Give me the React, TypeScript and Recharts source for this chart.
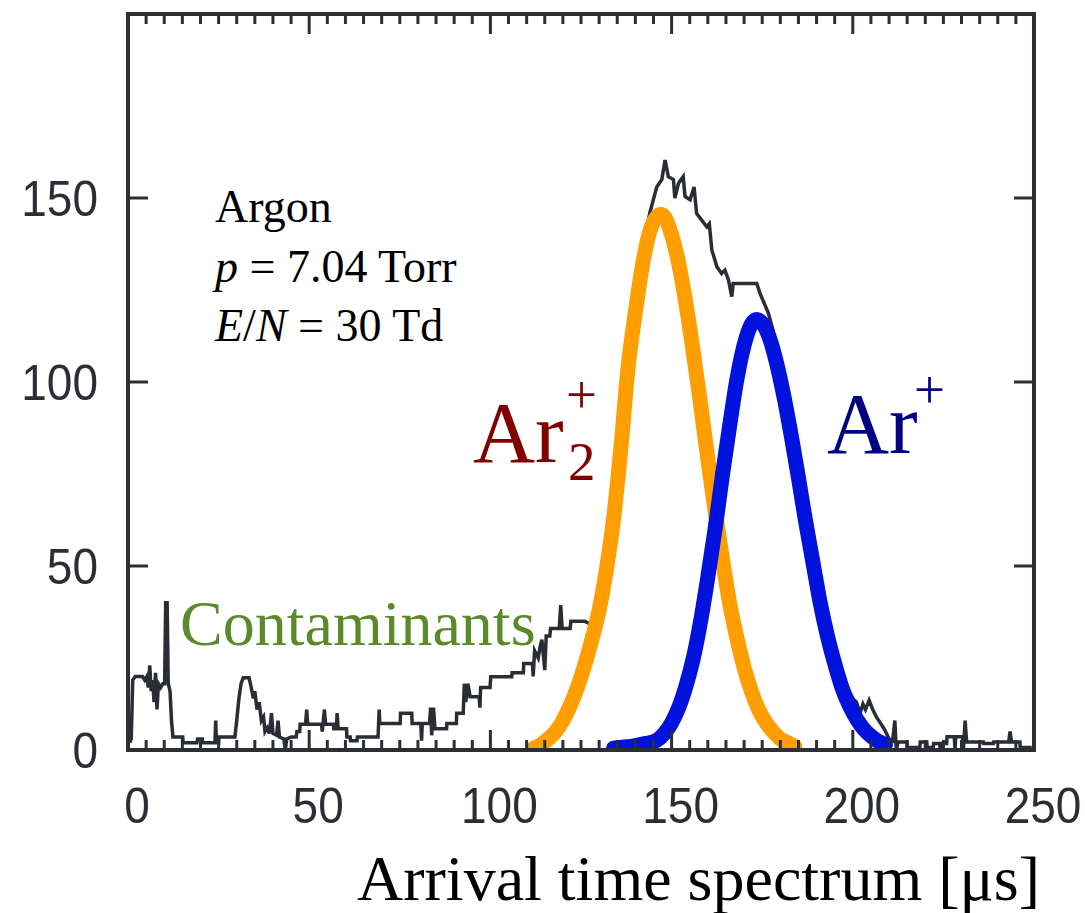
import React from 'react';
import { LineChart, Line, XAxis, YAxis } from 'recharts';

// ---- data ----
const specX = [0.5,0.9,1.3,2.0,4.0,4.6,5.2,5.6,6.0,6.4,6.8,7.2,7.6,8.0,8.4,9.0,9.6,10.1,10.4,10.8,11.1,11.6,12.0,12.4,15.1,15.2,19.0,19.2,20.5,20.6,24.0,24.2,24.4,25.0,25.1,29.5,30.0,30.6,31.2,31.8,33.4,34.0,34.6,35.0,35.6,36.2,36.8,37.4,37.8,38.4,39.0,39.6,40.0,41.0,41.4,41.8,43.0,43.4,43.8,45.0,46.4,46.6,47.4,47.5,49.0,49.3,49.6,51.0,53.4,53.6,54.2,54.5,56.7,56.8,57.5,57.7,58.0,60.3,60.4,61.3,61.4,63.2,63.3,69.0,69.3,69.5,75.1,75.2,78.3,78.4,80.8,81.0,81.2,83.2,83.5,83.8,84.3,84.7,87.9,88.0,90.6,90.7,92.5,92.8,93.2,93.8,94.4,96.9,97.1,97.3,99.9,100.1,105.9,106.0,109.1,109.2,111.6,111.8,112.2,113.2,113.7,114.2,115.0,115.4,116.4,116.6,119.0,119.4,119.8,122.0,122.2,124.0,126.0,128.0,129.0,130.0,132.0,134.0,136.0,138.0,140.0,142.0,143.0,144.0,145.9,147.3,148.2,149.1,150.5,150.9,151.9,153.2,153.7,155.1,156.2,156.9,158.3,159.7,160.4,161.1,162.5,163.8,164.7,165.7,166.6,167.0,173.5,174.4,176.7,178.0,180.0,182.0,184.0,186.0,188.0,190.0,192.0,194.0,196.0,198.0,200.0,201.0,202.0,202.8,203.5,204.5,205.5,206.5,207.5,208.5,209.3,210.0,211.0,211.6,212.0,212.5,214.9,215.0,218.5,218.6,220.4,220.5,222.2,222.3,224.0,224.1,224.3,225.9,226.0,228.0,228.2,228.4,230.3,230.5,231.0,231.4,236.0,236.1,238.8,238.9,243.0,243.4,243.8,246.1,246.2,249.4];
const specY = [2,3,19,20,20,19,20,17,23,16,19,13,21,11,18,17,18,18,40,40,18,16,8,3.5,3.5,2,2,3,3,2,2,8,2,2,3.5,3.5,8,14,18,19.6,19.6,17,14,16,11,13,8,9,5,6,4.5,10,4.5,4,8,3.5,3,0,3,3.5,3.5,5,5,7,7,11,7,7,7,5,11,7,7,5.8,5.8,10,5.8,5.8,3.5,3.5,2.5,2.5,3.5,3.5,11,7.2,7.2,10,10,7.2,7.2,2.5,7.2,7.2,11.5,4,11.5,5.8,5.8,7.2,7.2,10,10,18,13,18,14.5,14.5,11.5,17,17,19.9,19.9,21,21,23.5,23.5,20,27,25,28,30,21.7,31,31,33,33,39.4,33,33,35,35,35,34,35,40,51,66,85,107,122,135,141,146,153,155,160.3,155.8,155,150,154,155.8,150.4,149.5,153,145.8,144,142.2,143,135.9,131.3,129.5,130.4,127.7,123.2,126.8,126.8,124.1,118.7,114,103,94,84,72,60,49,39,30,23,17.5,14,13,10,12.5,11,13.5,11,9,7.5,6,4.5,3,2.5,8,0,2.2,2.2,0.7,0.7,2.2,2.2,0.7,0.7,1.8,1.8,0,1.8,1.8,3.6,3.6,0,3.6,3.6,0,8,2.2,2.2,1.8,1.8,2.2,2.2,5,2.2,2.2,0.7,0.7];

const dimerX = [112,114,116,118,120,122,124,126,128,130,132,134,136,138,140,142,144,146,147,148,150,152,154,156,158,160,162,164,166,168,170,172,174,176,178,180,182,184];
const dimerY = [0.5,1.5,3,5,8,12,17,23,30,38,49,63,82,104,119,132,141,145,145.5,145,140,132,121,108,94,79,65,52,40,30.5,22.4,16,11,7.5,5,3,2,1];

const atomX = [134,137,140,143,146,148,150,152,154,156,158,160,162,164,166,168,170,172,173.5,175,177,179,181,183,185,187,189,191,193,195,197,199,201,203,205,207,209];
const atomY = [0.5,0.8,1.2,1.8,2.7,4.5,7.4,11.6,17.5,25,35,47,60,74.5,88,100.6,110,115.7,117,116,112,105,96,85.5,74,62,51,40,31,23.5,17,12.2,8.5,5.7,3.8,2.4,1.5];

const xTicks = [0,5,10,15,20,25,30,35,40,45,50,55,60,65,70,75,80,85,90,95,100,105,110,115,120,125,130,135,140,145,150,155,160,165,170,175,180,185,190,195,200,205,210,215,220,225,230,235,240,245,250];
const xLabelTicks = [0,50,100,150,200,250];
const yTicks = [0,50,100,150];

const spectrum = specX.map((x, i) => ({ x, y: specY[i] }));
const dimer = dimerX.map((x, i) => ({ x, y: dimerY[i] }));
const atom = atomX.map((x, i) => ({ x, y: atomY[i] }));

const AXIS = '#2b2e35';
const SANS = '"Liberation Sans", Arial, Helvetica, sans-serif';
const SERIF = '"Liberation Serif", "Times New Roman", Times, serif';

const BottomTick = (props: any) => {
  const { x, y, payload } = props;
  const v = payload.value;
  const major = xLabelTicks.includes(v);
  return (
    <g>
      <line x1={x} y1={y} x2={x} y2={y - (major ? 20 : 10)} stroke={AXIS} strokeWidth={3} />
      {major && (
        <text transform={`translate(${x + 9},${y + 73}) scale(1,1.1)`} textAnchor="middle" fontSize={46} fill={AXIS} fontFamily={SANS}>
          {v}
        </text>
      )}
    </g>
  );
};

const TopTick = (props: any) => {
  const { x, y, payload } = props;
  const major = xLabelTicks.includes(payload.value);
  return <line x1={x} y1={y} x2={x} y2={y + (major ? 20 : 10)} stroke={AXIS} strokeWidth={3} />;
};

const LeftTick = (props: any) => {
  const { x, y, payload } = props;
  return (
    <g>
      <line x1={x} y1={y} x2={x + 20} y2={y} stroke={AXIS} strokeWidth={3} />
      <text transform={`translate(${x - 30},${y + 18}) scale(1,1.1)`} textAnchor="end" fontSize={46} fill={AXIS} fontFamily={SANS}>
        {payload.value}
      </text>
    </g>
  );
};

const RightTick = (props: any) => {
  const { x, y } = props;
  return <line x1={x} y1={y} x2={x - 20} y2={y} stroke={AXIS} strokeWidth={3} />;
};

const axisLine = { stroke: AXIS, strokeWidth: 4, strokeLinecap: 'square' as const };

export default function App() {
  return (
    <div style={{ position: 'absolute', left: 0, top: 0, width: 1085, height: 913, background: '#fff' }}>
      <LineChart width={1085} height={913} margin={{ top: 0, right: 0, bottom: 0, left: 0 }}>
        <XAxis dataKey="x" type="number" domain={[0, 250]} ticks={xTicks} interval={0} allowDataOverflow
          height={163} tickSize={0} tickMargin={0} tickLine={false} axisLine={axisLine} tick={BottomTick} />
        <XAxis xAxisId="top" orientation="top" dataKey="x" type="number" domain={[0, 250]} ticks={xTicks} interval={0} allowDataOverflow
          height={14} tickSize={0} tickMargin={0} tickLine={false} axisLine={axisLine} tick={TopTick} />
        <YAxis type="number" domain={[0, 200]} ticks={yTicks} interval={0} allowDataOverflow
          width={128} tickSize={0} tickMargin={0} tickLine={false} axisLine={axisLine} tick={LeftTick} />
        <YAxis yAxisId="right" orientation="right" type="number" domain={[0, 200]} ticks={yTicks} interval={0} allowDataOverflow
          width={51} tickSize={0} tickMargin={0} tickLine={false} axisLine={axisLine} tick={RightTick} />
        <Line data={spectrum} dataKey="y" type="linear" stroke="#2a2d33" strokeWidth={3.5} dot={false} isAnimationActive={false} strokeLinejoin="miter" />
        <Line data={dimer} dataKey="y" type="monotone" stroke="#ff9e00" strokeWidth={15} strokeLinecap="round" dot={false} isAnimationActive={false} />
        <Line data={atom} dataKey="y" type="monotone" stroke="#0012dc" strokeWidth={15} strokeLinecap="round" dot={false} isAnimationActive={false} />
      </LineChart>
      <svg width={1085} height={913} style={{ position: 'absolute', left: 0, top: 0, pointerEvents: 'none' }}>
        <text x={215} y={222} fontSize={46} fontFamily={SERIF} fill="#000">Argon</text>
        <text x={215} y={282} fontSize={46} fontFamily={SERIF} fill="#000">
          <tspan fontStyle="italic">p</tspan> = 7.04 Torr
        </text>
        <text x={215} y={341} fontSize={46} fontFamily={SERIF} fill="#000">
          <tspan fontStyle="italic">E</tspan>/<tspan fontStyle="italic">N</tspan> = 30 Td
        </text>
        <text x={473} y={462} fontSize={86} fontFamily={SERIF} fill="#800000">Ar</text>
        <text x={568} y={480} fontSize={55} fontFamily={SERIF} fill="#800000">2</text>
        <text x={566} y={413} fontSize={55} fontFamily={SERIF} fill="#800000">+</text>
        <text x={827} y={453} fontSize={86} fontFamily={SERIF} fill="#000080">Ar</text>
        <text x={914} y={408} fontSize={55} fontFamily={SERIF} fill="#000080">+</text>
        <text x={180} y={645} fontSize={64} fontFamily={SERIF} fill="#5a8a2a">Contaminants</text>
        <text x={1040} y={900} fontSize={64} fontFamily={SERIF} fill="#000" textAnchor="end">Arrival time spectrum [μs]</text>
      </svg>
    </div>
  );
}
